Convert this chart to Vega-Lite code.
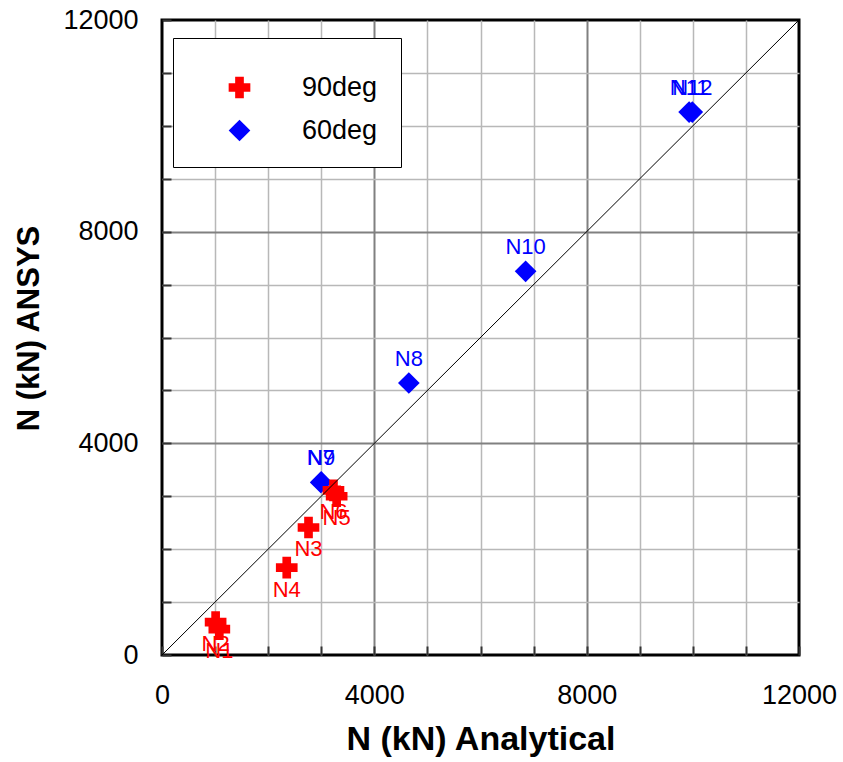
{
  "$schema": "https://vega.github.io/schema/vega-lite/v6.json",
  "width": 637,
  "height": 635,
  "autosize": "none",
  "padding": {"left": 162, "top": 20, "right": 44, "bottom": 107},
  "background": "white",
  "config": {
    "font": "Liberation Sans",
    "view": {"stroke": "black", "strokeWidth": 3},
    "axis": {
      "grid": true,
      "domain": false,
      "gridColor": {"condition": {"test": "datum.value % 4000 === 0", "value": "#808080"}, "value": "#b8b8b8"},
      "gridWidth": {"condition": {"test": "datum.value % 4000 === 0", "value": 2}, "value": 1.5},
      "gridOpacity": {"condition": {"test": "datum.value === 0 || datum.value === 12000", "value": 0}, "value": 1},
      "tickSize": -9,
      "tickWidth": 2,
      "tickColor": "#333333",
      "labelFontSize": 27,
      "labelColor": "black",
      "labelFlush": false,
      "labelOverlap": false,
      "titleColor": "black",
      "titleFontWeight": "bold"
    }
  },
  "datasets": {
    "points": [
      {"name": "N7", "series": "60deg", "analytical": 2990, "ansys": 3260},
      {"name": "N9", "series": "60deg", "analytical": 3000, "ansys": 3270},
      {"name": "N8", "series": "60deg", "analytical": 4650, "ansys": 5140},
      {"name": "N10", "series": "60deg", "analytical": 6850, "ansys": 7250},
      {"name": "N11", "series": "60deg", "analytical": 9930, "ansys": 10260},
      {"name": "N12", "series": "60deg", "analytical": 9990, "ansys": 10260},
      {"name": "N1", "series": "90deg", "analytical": 1080, "ansys": 490},
      {"name": "N2", "series": "90deg", "analytical": 1010, "ansys": 620},
      {"name": "N3", "series": "90deg", "analytical": 2760, "ansys": 2410},
      {"name": "N4", "series": "90deg", "analytical": 2350, "ansys": 1650},
      {"name": "N5", "series": "90deg", "analytical": 3290, "ansys": 3000},
      {"name": "N6", "series": "90deg", "analytical": 3230, "ansys": 3110}
    ],
    "diagonal": [
      {"analytical": 0, "ansys": 0},
      {"analytical": 12000, "ansys": 12000}
    ]
  },
  "layer": [
    {
      "data": {"name": "points"},
      "mark": {"type": "point", "filled": true, "size": 470, "opacity": 1, "strokeWidth": 0},
      "encoding": {
        "x": {
          "field": "analytical", "type": "quantitative",
          "scale": {"domain": [0, 12000], "nice": false, "zero": false},
          "axis": {
            "values": [0, 1000, 2000, 3000, 4000, 5000, 6000, 7000, 8000, 9000, 10000, 11000, 12000],
            "format": "d",
            "labelExpr": "datum.value % 4000 === 0 ? datum.label : ''",
            "labelBaseline": "alphabetic",
            "labelPadding": 57,
            "title": "N (kN) Analytical",
            "titleFontSize": 34,
            "titleBaseline": "alphabetic",
            "titleY": 94
          }
        },
        "y": {
          "field": "ansys", "type": "quantitative",
          "scale": {"domain": [0, 12000], "nice": false, "zero": false},
          "axis": {
            "values": [0, 1000, 2000, 3000, 4000, 5000, 6000, 7000, 8000, 9000, 10000, 11000, 12000],
            "format": "d",
            "labelExpr": "datum.value % 4000 === 0 ? datum.label : ''",
            "labelPadding": 33,
            "title": "N (kN) ANSYS",
            "titleFontSize": 31,
            "titleBaseline": "alphabetic",
            "titleX": -124,
            "titleY": 308
          }
        },
        "color": {
          "field": "series", "type": "nominal",
          "scale": {"domain": ["90deg", "60deg"], "range": ["#ff0000", "#0000ff"]},
          "legend": {
            "title": " ",
            "titleFontSize": 1,
            "titlePadding": 12,
            "orient": "none",
            "legendX": 11,
            "legendY": 18,
            "padding": 23,
            "strokeColor": "black",
            "fillColor": "white",
            "symbolSize": 470,
            "symbolStrokeWidth": 0,
            "symbolOffset": 30,
            "labelOffset": 49,
            "labelFontSize": 27,
            "labelColor": "black",
            "labelLimit": 300,
            "rowPadding": 15
          }
        },
        "shape": {
          "field": "series", "type": "nominal",
          "scale": {"domain": ["90deg", "60deg"], "range": ["cross", "diamond"]}
        }
      }
    },
    {
      "data": {"name": "diagonal"},
      "mark": {"type": "line", "color": "black", "strokeWidth": 1},
      "encoding": {
        "x": {"field": "analytical", "type": "quantitative"},
        "y": {"field": "ansys", "type": "quantitative"}
      }
    },
    {
      "data": {"name": "points"},
      "transform": [{"filter": "datum.series === '60deg'"}],
      "mark": {"type": "text", "fontSize": 22, "dy": -24, "baseline": "middle"},
      "encoding": {
        "x": {"field": "analytical", "type": "quantitative"},
        "y": {"field": "ansys", "type": "quantitative"},
        "text": {"field": "name"},
        "color": {"field": "series", "type": "nominal"}
      }
    },
    {
      "data": {"name": "points"},
      "transform": [{"filter": "datum.series === '90deg'"}],
      "mark": {"type": "text", "fontSize": 22, "dy": 22, "baseline": "middle"},
      "encoding": {
        "x": {"field": "analytical", "type": "quantitative"},
        "y": {"field": "ansys", "type": "quantitative"},
        "text": {"field": "name"},
        "color": {"field": "series", "type": "nominal"}
      }
    }
  ]
}
